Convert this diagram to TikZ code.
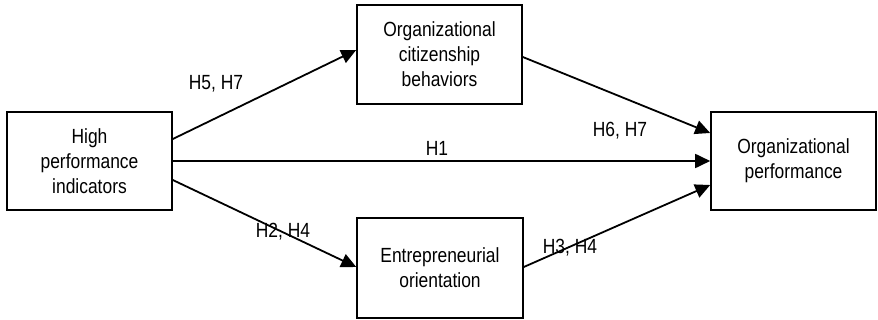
\documentclass[tikz,border=0pt]{standalone}
\usepackage{fontspec}
\setmainfont[FakeStretch=0.85]{Liberation Sans}
\usetikzlibrary{arrows.meta}
\begin{document}
\begin{tikzpicture}[x=1pt,y=-1pt,
  construct/.style={draw, line width=1.6pt, minimum width=165pt, minimum height=98pt,
    align=center, font=\fontsize{20.5}{25}\selectfont, inner sep=0pt},
  path/.style={line width=1.8pt, -{Triangle[length=15pt,width=14pt]}},
  hlabel/.style={font=\fontsize{20.5}{24}\selectfont, inner sep=0pt}]
\useasboundingbox (0,0) rectangle (878,320);
% constructs
\node[construct] (hpi) at (89.5,161) {High\\performance\\indicators};
\node[construct, minimum height=99pt] (ocb) at (439.5,54.5) {Organizational\\citizenship\\behaviors};
\node[construct, minimum width=166pt, minimum height=100pt] (eo) at (440,268) {Entrepreneurial\\orientation};
\node[construct] (op) at (793.5,161) {Organizational\\performance};
% hypothesised paths
\draw[path] ([yshift=22pt]hpi.east) -- ([yshift=4.5pt]ocb.west);
\draw[path] (hpi.east) -- (op.west);
\draw[path] ([yshift=-19pt]hpi.east) -- ([yshift=1pt]eo.west);
\draw[path] ([yshift=-2.5pt]ocb.east) -- ([yshift=28pt]op.west);
\draw[path] ([yshift=1pt]eo.east) -- ([yshift=-24pt]op.west);
% path labels
\node[hlabel] (l57) at (216,84) {H5, H7};
\node[hlabel] (l1) at (437,148) {H1};
\node[hlabel] (l67) at (620,131) {H6, H7};
\node[hlabel] (l24) at (283,232) {H2, H4};
\node[hlabel] (l34) at (570,248) {H3, H4};
\end{tikzpicture}
\end{document}
